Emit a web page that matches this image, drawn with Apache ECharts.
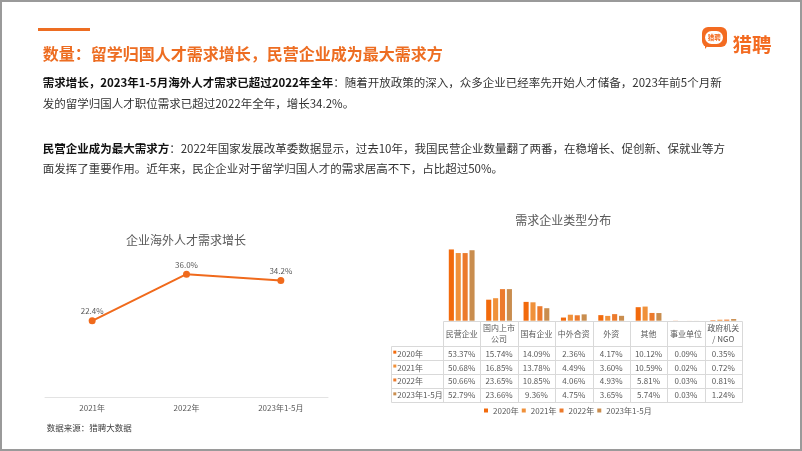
<!DOCTYPE html>
<html>
<head>
<meta charset="utf-8">
<script src="https://cdn.jsdelivr.net/npm/echarts@6/dist/echarts.min.js"></script>
<style>
  html,body{margin:0;padding:0;background:#fff;}
  #page{position:relative;width:802px;height:451px;overflow:hidden;background:#fff;
        font-family:"Noto Sans CJK SC","Noto Sans",sans-serif;}
  #chart{position:absolute;left:0;top:0;width:802px;height:451px;}
  .abs{position:absolute;white-space:nowrap;}
  #frame{position:absolute;left:0;top:0;width:802px;height:451px;box-sizing:border-box;
         border:2px solid #9a9a9a;pointer-events:none;}
  #topline{left:38px;top:27.5px;width:52px;height:3px;background:#ED6D22;}
  #title{left:42.7px;top:43.3px;font-size:16px;line-height:20px;font-weight:bold;color:#ED6D22;}
  .para{left:42.7px;font-size:11.5px;line-height:16px;color:#333;}
  .para b{color:#111;font-weight:bold;}
  #logoIcon{left:701.7px;top:27.3px;width:25px;height:20px;border-radius:6px;background:#F36B21;}
  #logoTail{left:705px;top:44px;width:0;height:0;border-left:4px solid #F36B21;border-right:4px solid transparent;border-bottom:5px solid transparent;border-top:0;}
  #logoBubble{left:3.5px;top:3.5px;width:18px;height:13px;border-radius:7px;background:#fff;
              color:#F36B21;font-size:6.5px;line-height:13px;text-align:center;font-weight:bold;}
  #logoText{left:732.5px;top:32px;font-size:19.5px;line-height:24px;font-weight:bold;color:#F36B21;}
</style>
</head>
<body>
<div id="page">
  <div id="chart"></div>
  <div id="topline" class="abs"></div>
  <div id="title" class="abs">数量：留学归国人才需求增长，民营企业成为最大需求方</div>
  <div class="abs para" style="top:74px"><b>需求增长，2023年1-5月海外人才需求已超过2022年全年</b>：随着开放政策的深入，众多企业已经率先开始人才储备，2023年前5个月新</div>
  <div class="abs para" style="top:95px">发的留学归国人才职位需求已超过2022年全年，增长34.2%。</div>
  <div class="abs para" style="top:140px"><b>民营企业成为最大需求方</b>：2022年国家发展改革委数据显示，过去10年，我国民营企业数量翻了两番，在稳增长、促创新、保就业等方</div>
  <div class="abs para" style="top:159.5px">面发挥了重要作用。近年来，民企企业对于留学归国人才的需求居高不下，占比超过50%。</div>
  <div id="logoTail" class="abs"></div>
  <div id="logoIcon" class="abs"><div id="logoBubble" class="abs">猎聘</div></div>
  <div id="logoText" class="abs">猎聘</div>
  <div id="frame"></div>
</div>
<script>
// ---- data ----
const lineCategories = ['2021年', '2022年', '2023年1-5月'];
const lineValues = [22.4, 36.0, 34.2];

const barCategories = ['民营企业', '国内上市\n公司', '国有企业', '中外合资', '外资', '其他', '事业单位', '政府机关\n/ NGO'];
const seriesNames = ['2020年', '2021年', '2022年', '2023年1-5月'];
const values2020 = [53.37, 15.74, 14.09, 2.36, 4.17, 10.12, 0.09, 0.35];
const values2021 = [50.68, 16.85, 13.78, 4.49, 3.60, 10.59, 0.02, 0.72];
const values2022 = [50.66, 23.65, 10.85, 4.06, 4.93, 5.81, 0.03, 0.81];
const values2023 = [52.79, 23.66, 9.36, 4.75, 3.65, 5.74, 0.03, 1.24];
const barValues = [values2020, values2021, values2022, values2023];

const lineTitle = '企业海外人才需求增长';
const barTitle = '需求企业类型分布';
const sourceText = '数据来源：猎聘大数据';

// ---- styles ----
const FONT = '"Noto Sans CJK SC","Noto Sans",sans-serif';
const barColors = ['#F26A0C', '#F0913A', '#EC7A2C', '#C98D4E'];
const lineColor = '#F06A1C';
const labelColor = '#595959';
const gridLineColor = '#D9D9D9';

const chart = echarts.init(document.getElementById('chart'), null, {renderer: 'canvas'});

const option = {
  animation: false,
  textStyle: {fontFamily: FONT},
  grid: [
    {left: 45, width: 283, top: 260.5, height: 137.2},
    {left: 443, width: 299, top: 240.6, height: 80.1}
  ],
  legend: {
    data: seriesNames,
    left: 484, top: 406.5, padding: 0,
    icon: 'rect', itemWidth: 4, itemHeight: 4, itemGap: 3,
    textStyle: {fontSize: 8, color: labelColor, fontFamily: FONT}
  },
  xAxis: [
    {gridIndex: 0, type: 'category', data: lineCategories,
     axisLine: {lineStyle: {color: '#E3E3E3', width: 1}},
     axisTick: {show: false},
     axisLabel: {color: labelColor, fontSize: 8, margin: 6, fontFamily: FONT}},
    {gridIndex: 1, type: 'category', data: barCategories,
     axisLine: {show: false}, axisTick: {show: false}, axisLabel: {show: false}}
  ],
  yAxis: [
    {gridIndex: 0, type: 'value', min: 0, max: 40, show: false},
    {gridIndex: 1, type: 'value', min: 0, max: 60, show: false}
  ],
  series: [
    {
      type: 'line', xAxisIndex: 0, yAxisIndex: 0, data: lineValues,
      symbol: 'circle', symbolSize: 7,
      lineStyle: {color: lineColor, width: 2},
      itemStyle: {color: lineColor},
      label: {show: true, position: 'top', distance: 2, color: labelColor, fontSize: 8,
              fontFamily: FONT, formatter: p => p.value.toFixed(1) + '%'}
    }
  ].concat(seriesNames.map((name, i) => ({
    type: 'bar', name: name, xAxisIndex: 1, yAxisIndex: 1, data: barValues[i],
    barCategoryGap: '31%', barGap: '35%',
    itemStyle: {color: barColors[i]}
  })))
};
chart.setOption(option);

// ---- titles, table (positions from the bar axis) ----
function txt(x, y, s, o) {
  return {type: 'text', x: x, y: y, silent: true,
          style: Object.assign({text: s, fill: labelColor, fontSize: 8, fontFamily: FONT,
                                align: 'center', verticalAlign: 'middle', lineHeight: 11}, o || {})};
}
function seg(x1, y1, x2, y2) {
  return {type: 'line', silent: true, shape: {x1: x1, y1: y1, x2: x2, y2: y2},
          style: {stroke: gridLineColor, lineWidth: 1}};
}
const els = [];
els.push(txt(186, 240.7, lineTitle, {fontSize: 12}));
els.push(txt(563.3, 220.7, barTitle, {fontSize: 12}));
els.push(txt(46.7, 427.3, sourceText, {fontSize: 8.5, align: 'left', fill: '#404040'}));

const c0 = chart.convertToPixel({xAxisIndex: 1}, 0);
const c1 = chart.convertToPixel({xAxisIndex: 1}, 1);
const band = c1 - c0;
const n = barCategories.length;
const tLeft = c0 - band / 2;
const tRight = tLeft + band * n;
const yTop = chart.convertToPixel({yAxisIndex: 1}, 0);
const headerH = 25.5, rowH = 13.9, labelLeft = 391;
const yBottom = yTop + headerH + rowH * seriesNames.length;
const h = v => Math.round(v) + 0.5;

els.push(seg(h(tLeft), h(yTop), h(tRight), h(yTop)));
for (let r = 0; r <= seriesNames.length; r++) {
  const y = h(yTop + headerH + r * rowH);
  els.push(seg(h(labelLeft), y, h(tRight), y));
}
for (let i = 0; i <= n; i++) {
  const x = h(tLeft + i * band);
  els.push(seg(x, h(yTop), x, h(yBottom)));
}
els.push(seg(h(labelLeft), h(yTop + headerH), h(labelLeft), h(yBottom)));

barCategories.forEach((c, i) => {
  els.push(txt(tLeft + band * (i + 0.5), yTop + headerH / 2 + 0.5, c));
});
seriesNames.forEach((name, r) => {
  const cy = yTop + headerH + rowH * (r + 0.5) + 0.5;
  els.push({type: 'rect', silent: true, shape: {x: labelLeft + 2.3, y: cy - 3, width: 3, height: 3},
            style: {fill: barColors[r]}});
  els.push(txt(labelLeft + 6.3, cy, name, {align: 'left'}));
  barValues[r].forEach((v, i) => {
    els.push(txt(tLeft + band * (i + 0.5), cy, v.toFixed(2) + '%'));
  });
});

chart.setOption({graphic: {elements: els}});
</script>
</body>
</html>
